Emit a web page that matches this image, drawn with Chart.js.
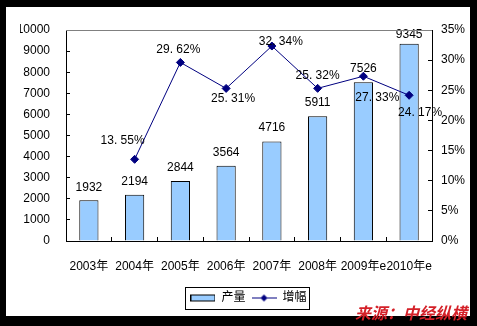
<!DOCTYPE html>
<html>
<head>
<meta charset="utf-8">
<script src="https://cdn.jsdelivr.net/npm/chart.js@4/dist/chart.umd.min.js"></script>
<style>
  html, body { margin: 0; padding: 0; background: #000; }
  canvas { display: block; }
</style>
</head>
<body>
<canvas id="chart" width="477" height="326" style="width:477px;height:326px"></canvas>
<script>
const years = ['2003年', '2004年', '2005年', '2006年', '2007年', '2008年', '2009年e', '2010年e']
const output = [1932, 2194, 2844, 3564, 4716, 5911, 7526, 9345]
const growth = [null, 13.55, 29.62, 25.31, 32.34, 25.32, 27.33, 24.17]

// label nudges (px) so they sit like the original
const barLabelLift = [13, 13.5, 13, 13, 13.5, 14, 14, 9]
const lineLabelShift = [[0, 0], [-12, -19], [-2, -13], [7, 10], [9, -4], [0, -13], [14, 21], [11, 17]]

Chart.defaults.font.family = "'Liberation Sans', 'Noto Sans CJK SC', sans-serif"
Chart.defaults.font.size = 12
Chart.defaults.color = '#000'

function legendIcon(kind) {
  const c = document.createElement('canvas')
  c.width = 25
  c.height = 9
  const g = c.getContext('2d')
  if (kind === 'bar') {
    g.fillStyle = '#99ccff'
    g.fillRect(0, 1, 25, 7)
    g.strokeStyle = '#000'
    g.lineWidth = 1
    g.strokeRect(0.5, 1.5, 24, 6)
  } else {
    g.strokeStyle = '#000080'
    g.lineWidth = 1
    g.beginPath()
    g.moveTo(0, 4.5)
    g.lineTo(25, 4.5)
    g.stroke()
    g.fillStyle = '#000080'
    g.beginPath()
    g.moveTo(12.5, 1)
    g.lineTo(16, 4.5)
    g.lineTo(12.5, 8)
    g.lineTo(9, 4.5)
    g.closePath()
    g.fill()
  }
  return c
}
const icons = { bar: legendIcon('bar'), line: legendIcon('line') }

const frame = {
  id: 'frame',
  beforeDraw(chart) {
    const ctx = chart.ctx
    ctx.save()
    ctx.fillStyle = '#000'
    ctx.fillRect(0, 0, chart.width, chart.height)
    ctx.fillStyle = '#fff'
    ctx.fillRect(6, 7, 464, 309)
    ctx.restore()
  },
  afterDraw(chart) {
    const ctx = chart.ctx
    const a = chart.chartArea
    ctx.save()
    // grey top edge of the plot area
    ctx.strokeStyle = '#808080'
    ctx.lineWidth = 1
    ctx.beginPath()
    ctx.moveTo(a.left, Math.round(a.top) + 0.5)
    ctx.lineTo(a.right, Math.round(a.top) + 0.5)
    ctx.stroke()
    // box round the legend
    const boxes = chart.legend.legendHitBoxes
    if (boxes && boxes.length) {
      const l = Math.min(...boxes.map(b => b.left))
      const r = Math.max(...boxes.map(b => b.left + b.width))
      const t = Math.min(...boxes.map(b => b.top))
      const btm = Math.max(...boxes.map(b => b.top + b.height))
      ctx.strokeStyle = '#000'
      ctx.strokeRect(Math.round(l - 5) + 0.5, Math.round(t - 5) + 0.5, Math.round(r - l + 8), Math.round(btm - t + 10))
    }
    // source note
    ctx.font = "italic bold 16px 'Noto Sans CJK SC'"
    ctx.fillStyle = '#d42028'
    ctx.textAlign = 'left'
    ctx.textBaseline = 'middle'
    ctx.fillText('来源：中经纵横', 355, 313)
    ctx.restore()
  }
}

const valueLabels = {
  id: 'valueLabels',
  afterDatasetsDraw(chart) {
    const ctx = chart.ctx
    ctx.save()
    ctx.font = "12px 'Liberation Sans', 'Noto Sans CJK SC'"
    ctx.fillStyle = '#000'
    ctx.textAlign = 'center'
    ctx.textBaseline = 'middle'
    chart.getDatasetMeta(1).data.forEach((bar, i) => {
      ctx.fillText(String(output[i]), bar.x, bar.y - barLabelLift[i])
    })
    chart.getDatasetMeta(0).data.forEach((pt, i) => {
      if (growth[i] == null) return
      const s = growth[i].toFixed(2).replace('.', '. ') + '%'
      ctx.fillText(s, pt.x + lineLabelShift[i][0], pt.y + lineLabelShift[i][1])
    })
    ctx.restore()
  }
}

const data = {
  labels: years,
  datasets: [
    {
      type: 'line',
      label: '增幅',
      data: growth,
      yAxisID: 'y1',
      borderColor: '#000080',
      backgroundColor: '#000080',
      borderWidth: 1,
      pointStyle: 'rectRot',
      pointRadius: 4,
      pointBackgroundColor: '#000080',
      pointBorderColor: '#000080',
      tension: 0,
      order: 0,
    },
    {
      type: 'bar',
      label: '产量',
      data: output,
      yAxisID: 'y',
      backgroundColor: '#99ccff',
      borderColor: '#000',
      borderWidth: 1,
      barPercentage: 0.42,
      categoryPercentage: 1,
      order: 1,
    },
  ],
}

const config = {
  data: data,
  options: {
    responsive: false,
    animation: false,
    devicePixelRatio: 1,
    layout: { padding: { top: 30, left: 20, right: 0, bottom: 12 } },
    scales: {
      x: {
        grid: { drawOnChartArea: false, tickLength: -4, color: '#000', offset: true },
        border: { color: '#000', width: 1 },
        ticks: { padding: 22, maxRotation: 0, autoSkip: false, color: '#000' },
        afterFit(s) { s.height = 45 },
      },
      y: {
        position: 'left',
        min: 0,
        max: 10000,
        grid: { drawOnChartArea: false, tickLength: -4, color: '#000' },
        border: { color: '#000', width: 1 },
        ticks: { stepSize: 1000, padding: 20, color: '#000', callback: v => String(v) },
        afterFit(s) { s.width = 46 },
      },
      y1: {
        position: 'right',
        min: 0,
        max: 35,
        grid: { drawOnChartArea: false, tickLength: -4, color: '#000' },
        border: { color: '#000', width: 1 },
        ticks: { stepSize: 5, padding: 13, color: '#000', callback: v => v + '%' },
        afterFit(s) { s.width = 45 },
      },
    },
    plugins: {
      legend: {
        position: 'bottom',
        reverse: true,
        labels: {
          usePointStyle: true,
          pointStyleWidth: 25,
          boxHeight: 9,
          padding: 6,
          color: '#000',
          font: { size: 12 },
          generateLabels(chart) {
            return Chart.defaults.plugins.legend.labels.generateLabels(chart).map(l => {
              l.pointStyle = l.datasetIndex === 1 ? icons.bar : icons.line
              return l
            })
          },
        },
      },
      tooltip: { enabled: false },
    },
  },
  plugins: [frame, valueLabels],
}

const chart = new Chart(document.getElementById('chart'), config)
</script>
</body>
</html>
